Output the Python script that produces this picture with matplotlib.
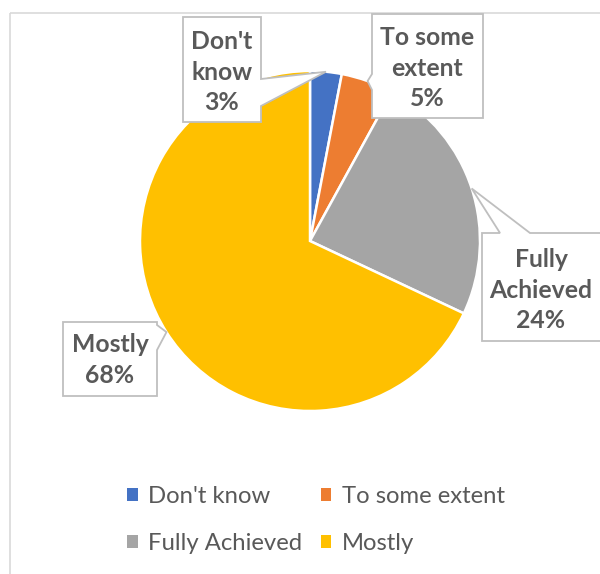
import matplotlib
matplotlib.use("Agg")
import matplotlib.pyplot as plt
from matplotlib.patches import Polygon, Rectangle
import numpy as np

categories = ["Don't know", "To some extent", "Fully Achieved", "Mostly"]
shares = [3, 5, 24, 68]
colors = ["#4472C4", "#ED7D31", "#A5A5A5", "#FFC000"]

TEXT = "#595959"
FONT = "Lato"

fig = plt.figure(figsize=(6.0, 5.74), dpi=100)
ax = fig.add_axes([0, 0, 1, 1])
ax.set_xlim(0, 600)
ax.set_ylim(574, 0)  # pixel-like coordinates, y grows downward
ax.axis("off")

# chart frame
ax.add_patch(Rectangle((10, 13), 620, 600, fill=False, edgecolor="#D9D9D9", lw=1.2, zorder=0))

# y is inverted, so counterclockwise in data space is clockwise on screen
wedges, _ = ax.pie(shares, colors=colors, startangle=-90, counterclock=True,
                   center=(310, 241), radius=170,
                   wedgeprops=dict(edgecolor="white", linewidth=1.8))
ax.set_xlim(0, 600)
ax.set_ylim(574, 0)
ax.set_aspect("auto")

# callout boxes: (x0, y0, x1, y1), pointer side, pointer base span, text centre
callouts = [
    ((183, 17, 261, 122), "right", (79, 106), (222, 72)),
    ((372, 14, 483, 118), "left", (74, 90), (427, 68)),
    ((482, 233, 606, 341), "top", (500, 530), (541, 290)),
    ((63, 322, 157, 396), "right", (325, 350), (110, 360)),
]

for w, cat, val, (box, side, (a, b), (tx, ty)) in zip(wedges, categories, shares, callouts):
    mid = np.deg2rad((w.theta1 + w.theta2) / 2)
    cx, cy = w.center
    tip = (cx + w.r * np.cos(mid), cy + w.r * np.sin(mid))
    x0, y0, x1, y1 = box
    if side == "right":
        pts = [(x0, y0), (x1, y0), (x1, a), tip, (x1, b), (x1, y1), (x0, y1)]
    elif side == "left":
        pts = [(x0, y0), (x1, y0), (x1, y1), (x0, y1), (x0, b), tip, (x0, a)]
    else:  # top
        pts = [(x0, y0), (a, y0), tip, (b, y0), (x1, y0), (x1, y1), (x0, y1)]
    ax.add_patch(Polygon(pts, closed=True, facecolor="white", edgecolor="#BFBFBF",
                         lw=1.3, zorder=3))
    words = cat.split(" ")
    if cat == "To some extent":
        words = ["To some", "extent"]
    label = "\n".join(words + [f"{val}%"])
    ax.text(tx, ty, label, ha="center", va="center", color=TEXT, fontsize=17.8,
            fontweight="bold", family=FONT, linespacing=1.38, zorder=4)

# legend filled row by row: two entries per row
order = [0, 2, 1, 3]
leg = ax.legend([wedges[i] for i in order], [categories[i] for i in order],
                ncol=2, loc="center",
                bbox_to_anchor=(316 / 600, 1 - 520 / 574), frameon=False,
                prop=dict(family=FONT, size=17.2), labelcolor=TEXT,
                handlelength=0.45, handleheight=0.45, handletextpad=0.45,
                columnspacing=0.75, labelspacing=1.1)
for h in leg.legend_handles:
    h.set_edgecolor("none")

fig.savefig("out.png", dpi=100, facecolor="white")
